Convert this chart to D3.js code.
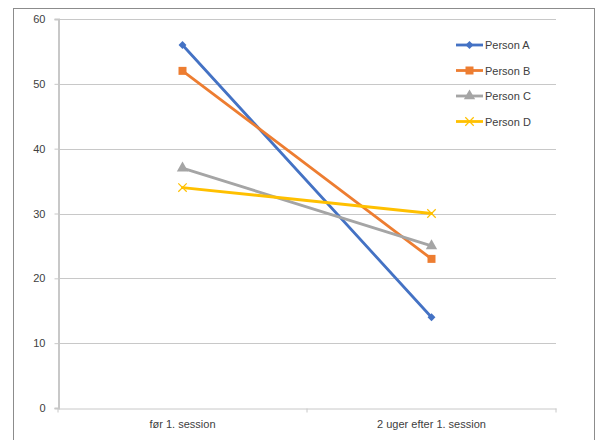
<!DOCTYPE html>
<html>
<head>
<meta charset="utf-8">
<script src="https://cdn.jsdelivr.net/npm/d3@7.9.0/dist/d3.min.js"></script>
<style>
  body { margin: 0; background: #fff; }
  svg { display: block; font-family: "Liberation Sans", Arial, sans-serif; }
</style>
</head>
<body>
<svg id="chart"></svg>
<script>
const categories = ["før 1. session", "2 uger efter 1. session"];
const personA = [56, 14];
const personB = [52, 23];
const personC = [37, 25];
const personD = [34, 30];
const yTicks = [0, 10, 20, 30, 40, 50, 60];

const series = [
    { name: "Person A", values: personA, color: "#4472C4", symbol: "diamond" },
    { name: "Person B", values: personB, color: "#ED7D31", symbol: "square" },
    { name: "Person C", values: personC, color: "#A5A5A5", symbol: "triangle" },
    { name: "Person D", values: personD, color: "#FFC000", symbol: "cross" }
];

const svgWidth = 598;
const svgHeight = 440;
const margin = { top: 19, right: 42, bottom: 32, left: 58 };
const width = svgWidth - margin.left - margin.right;
const height = svgHeight - margin.top - margin.bottom;

const svg = d3.select("#chart")
    .attr("width", svgWidth)
    .attr("height", svgHeight);

// chart frame (runs past the bottom of the picture)
svg.append("rect")
    .attr("x", 13.5)
    .attr("y", 8.5)
    .attr("width", 581)
    .attr("height", 450)
    .attr("fill", "none")
    .attr("stroke", "#8c8c8c")
    .attr("stroke-width", 1);

const g = svg.append("g")
    .attr("transform", `translate(${margin.left}, ${margin.top})`);

const xScale = d3.scaleBand()
    .domain(categories)
    .range([0, width]);

const yScale = d3.scaleLinear()
    .domain([0, 60])
    .range([height, 0]);

// gridlines
g.append("g")
    .selectAll("line")
    .data(yTicks.filter(d => d > 0))
    .enter()
    .append("line")
    .attr("x1", 0)
    .attr("x2", width)
    .attr("y1", d => Math.round(yScale(d)) + 0.5)
    .attr("y2", d => Math.round(yScale(d)) + 0.5)
    .attr("stroke", "#c8c8c8")
    .attr("stroke-width", 1);

// y axis
const yAxis = g.append("g")
    .attr("transform", "translate(0.5, 0)")
    .call(d3.axisLeft(yScale).tickValues(yTicks).tickSize(4).tickPadding(9));
yAxis.select(".domain").attr("stroke", "#c8c8c8").attr("stroke-width", 2);
yAxis.selectAll(".tick line").attr("stroke", "#c8c8c8");
yAxis.selectAll(".tick text")
    .style("font-size", "11px")
    .style("font-family", "'Liberation Sans', Arial, sans-serif")
    .attr("fill", "#404040");

// x axis
const xAxis = g.append("g")
    .attr("transform", `translate(0, ${Math.round(height) + 0.5})`)
    .call(d3.axisBottom(xScale).tickSize(0).tickPadding(12));
xAxis.select(".domain").attr("stroke", "#c8c8c8").attr("stroke-width", 1);
xAxis.selectAll(".tick text")
    .style("font-size", "11px")
    .style("font-family", "'Liberation Sans', Arial, sans-serif")
    .attr("fill", "#404040");
xAxis.selectAll(".sep")
    .data([0, width / 2, width])
    .enter()
    .append("line")
    .attr("x1", d => d)
    .attr("x2", d => d)
    .attr("y1", 0)
    .attr("y2", 4)
    .attr("stroke", "#c8c8c8");

const xPos = (i) => xScale(categories[i]) + xScale.bandwidth() / 2;

const line = d3.line()
    .x((d, i) => xPos(i))
    .y(d => yScale(d));

function drawMarker(sel, s, x, y) {
    const c = s.color;
    if (s.symbol === "diamond") {
        sel.append("path")
            .attr("d", d3.symbol(d3.symbolDiamond2, 40)())
            .attr("transform", `translate(${x},${y})`)
            .attr("fill", c);
    } else if (s.symbol === "square") {
        sel.append("path")
            .attr("d", d3.symbol(d3.symbolSquare, 64)())
            .attr("transform", `translate(${x},${y})`)
            .attr("fill", c);
    } else if (s.symbol === "triangle") {
        sel.append("path")
            .attr("d", d3.symbol(d3.symbolTriangle, 56)())
            .attr("transform", `translate(${x},${y})`)
            .attr("fill", c);
    } else {
        sel.append("path")
            .attr("d", d3.symbol(d3.symbolTimes, 48)())
            .attr("transform", `translate(${x},${y})`)
            .attr("fill", "none")
            .attr("stroke", c)
            .attr("stroke-width", 1.2);
    }
}

series.forEach(s => {
    g.append("path")
        .datum(s.values)
        .attr("d", line)
        .attr("fill", "none")
        .attr("stroke", s.color)
        .attr("stroke-width", 2.8)
        .attr("stroke-linecap", "round");
    s.values.forEach((v, i) => drawMarker(g, s, xPos(i), yScale(v)));
});

// legend
const legend = svg.append("g")
    .attr("transform", "translate(456, 45)");

series.forEach((s, i) => {
    const row = legend.append("g")
        .attr("transform", `translate(0, ${i * 25.5})`);
    row.append("line")
        .attr("x1", 0)
        .attr("x2", 27)
        .attr("y1", 0)
        .attr("y2", 0)
        .attr("stroke", s.color)
        .attr("stroke-width", 2.8);
    drawMarker(row, s, 13.5, 0);
    row.append("text")
        .attr("x", 29)
        .attr("y", 4)
        .style("font-size", "11px")
        .attr("fill", "#404040")
        .text(s.name);
});
</script>
</body>
</html>
